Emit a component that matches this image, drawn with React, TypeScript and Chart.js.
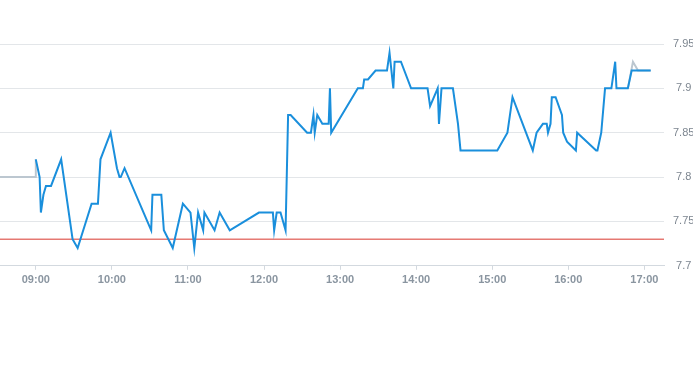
import React, { useEffect, useRef } from "react";
import { Chart, registerables } from "chart.js";

Chart.register(...registerables);

// Intraday price series (blue)
const priceTimes = [
  "09:00", "09:03", "09:04", "09:06", "09:08", "09:12", "09:20", "09:29", "09:33", "09:44",
  "09:49", "09:51", "09:59", "10:04", "10:06", "10:07", "10:10", "10:25", "10:31", "10:32",
  "10:39", "10:41", "10:48", "10:56", "11:02", "11:05", "11:08", "11:12", "11:13", "11:21",
  "11:25", "11:33", "11:56", "12:07", "12:08", "12:10", "12:13", "12:17", "12:19", "12:21",
  "12:34", "12:37", "12:39", "12:40", "12:42", "12:46", "12:51", "12:52", "12:53", "13:14",
  "13:18", "13:19", "13:22", "13:28", "13:37", "13:39", "13:42", "13:43", "13:48", "13:56",
  "14:09", "14:11", "14:17", "14:18", "14:20", "14:29", "14:33", "14:35", "15:04", "15:12",
  "15:16", "15:32", "15:35", "15:40", "15:43", "15:44", "15:46", "15:47", "15:50", "15:55",
  "15:56", "15:59", "16:06", "16:07", "16:22", "16:23", "16:26", "16:29", "16:34", "16:37",
  "16:38", "16:47", "16:50", "17:05",
];
const priceValues = [
  7.82, 7.80, 7.76, 7.78, 7.79, 7.79, 7.82, 7.73, 7.72, 7.77,
  7.77, 7.82, 7.85, 7.81, 7.80, 7.80, 7.81, 7.76, 7.74, 7.78,
  7.78, 7.74, 7.72, 7.77, 7.76, 7.72, 7.76, 7.74, 7.76, 7.74,
  7.76, 7.74, 7.76, 7.76, 7.74, 7.76, 7.76, 7.74, 7.87, 7.87,
  7.85, 7.85, 7.87, 7.85, 7.87, 7.86, 7.86, 7.90, 7.85, 7.90,
  7.90, 7.91, 7.91, 7.92, 7.92, 7.94, 7.90, 7.93, 7.93, 7.90,
  7.90, 7.88, 7.90, 7.86, 7.90, 7.90, 7.86, 7.83, 7.83, 7.85,
  7.89, 7.83, 7.85, 7.86, 7.86, 7.85, 7.86, 7.89, 7.89, 7.87,
  7.85, 7.84, 7.83, 7.85, 7.83, 7.83, 7.85, 7.90, 7.90, 7.93,
  7.90, 7.90, 7.92, 7.92,
];

// Secondary (gray) series, visible only where it departs from the price line
const grayTimes = ["08:30", "09:00", "09:00", null, "16:47", "16:51", "16:55", "17:05"];
const grayValues = [7.80, 7.80, 7.82, null, 7.90, 7.93, 7.92, 7.92];

// Reference level (red)
const refLevel = 7.73;

// Axes
const xTickTimes = ["09:00", "10:00", "11:00", "12:00", "13:00", "14:00", "15:00", "16:00", "17:00"];
const yTickValues = [7.7, 7.75, 7.8, 7.85, 7.9, 7.95];
const xRangeStart = "08:31:45";
const xRangeEnd = "17:15:30";

function toMin(t: string): number {
  const p = t.split(":").map(Number);
  return p[0] * 60 + p[1] + (p[2] || 0) / 60;
}
function fmt(m: number): string {
  const h = Math.floor(m / 60);
  const mm = Math.round(m - h * 60);
  return String(h).padStart(2, "0") + ":" + String(mm).padStart(2, "0");
}

export default function App() {
  const ref = useRef<HTMLCanvasElement | null>(null);

  useEffect(() => {
    document.body.style.margin = "0";
    const ctx = ref.current;
    if (!ctx) return;
    const xMin = toMin(xRangeStart);
    const xMax = toMin(xRangeEnd);
    const family = "'Liberation Sans', Arial, sans-serif";

    const chart = new Chart(ctx, {
      type: "line",
      data: {
        datasets: [
          {
            label: "price",
            data: priceTimes.map((t, i) => ({ x: toMin(t), y: priceValues[i] })),
            borderColor: "#1a8fdc",
            borderWidth: 2,
            pointRadius: 0,
            tension: 0,
            order: 1,
          },
          {
            label: "gray",
            data: grayTimes.map((t, i) => ({ x: t ? toMin(t) : NaN, y: grayValues[i] as any })),
            borderColor: "#bcc7d0",
            borderWidth: 2,
            pointRadius: 0,
            tension: 0,
            spanGaps: false,
            order: 2,
          },
          {
            label: "ref",
            data: [
              { x: xMin, y: refLevel },
              { x: xMax, y: refLevel },
            ],
            borderColor: "#d9372e",
            borderWidth: 1,
            pointRadius: 0,
            order: 3,
          },
        ],
      },
      options: {
        responsive: false,
        animation: false,
        events: [],
        layout: { padding: { top: 44, bottom: 74, left: 0, right: 0 } },
        plugins: { legend: { display: false }, tooltip: { enabled: false } },
        scales: {
          x: {
            type: "linear",
            min: xMin,
            max: xMax,
            afterBuildTicks: (s: any) => {
              s.ticks = xTickTimes.map((t) => ({ value: toMin(t) }));
            },
            ticks: {
              callback: (v: any) => fmt(Number(v)),
              color: "#8a95a0",
              font: { family, size: 11, weight: "bold" },
              padding: 4,
              maxRotation: 0,
              autoSkip: false,
            },
            grid: { drawOnChartArea: false, drawTicks: true, tickLength: 4, color: "#d3d9df" },
            border: { display: true, color: "#d3d9df" },
          },
          y: {
            position: "right",
            min: 7.7,
            max: 7.95,
            afterBuildTicks: (s: any) => {
              s.ticks = yTickValues.map((v) => ({ value: v }));
            },
            afterFit: (s: any) => {
              s.width = 29;
            },
            ticks: {
              callback: (v: any) => String(Number(v)),
              color: "#7d8690",
              font: { family, size: 11 },
              padding: 9,
              crossAlign: "center",
            },
            grid: { color: "#e3e6e9", drawTicks: false },
            border: { display: false },
          },
        },
      },
    } as any);
    return () => chart.destroy();
  }, []);

  return (
    <div style={{ width: 693, height: 365 }}>
      <canvas ref={ref} width={693} height={365} />
    </div>
  );
}
